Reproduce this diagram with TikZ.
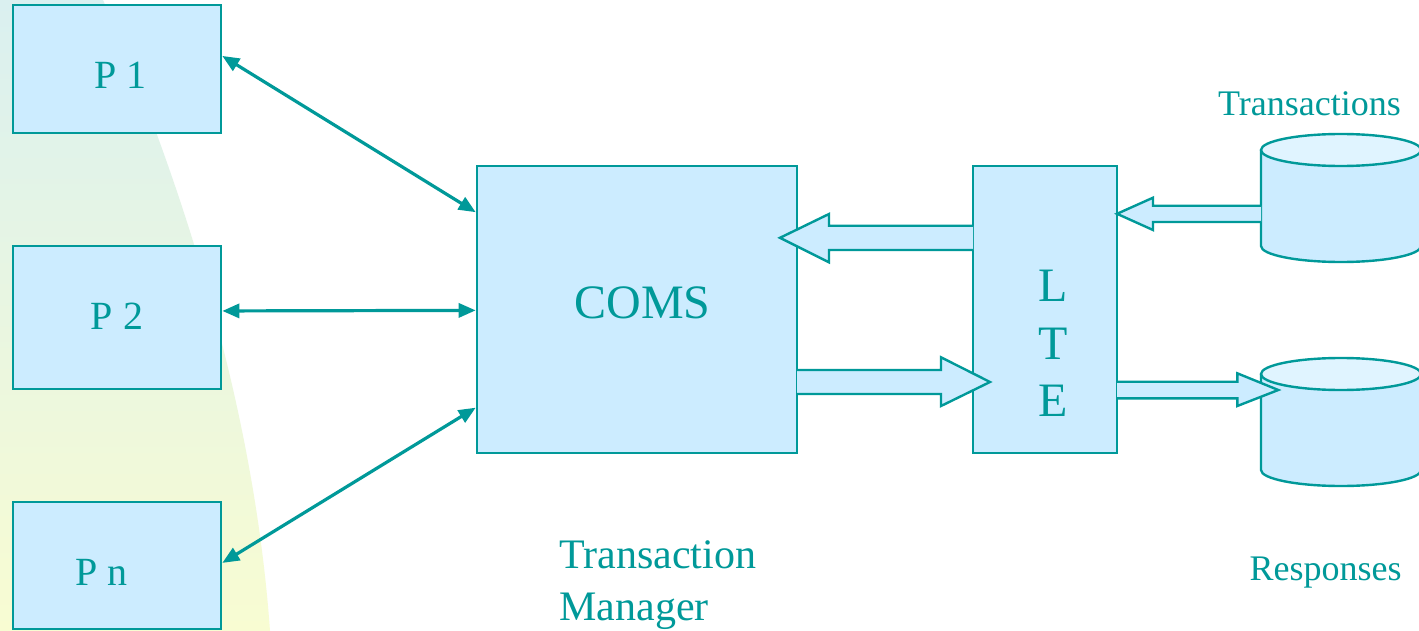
\documentclass[tikz,border=0pt]{standalone}
\usepackage{fontspec}
\setmainfont{Liberation Serif}
\usetikzlibrary{arrows.meta,calc}
\definecolor{tealc}{RGB}{0,153,153}
\definecolor{boxfill}{RGB}{204,236,255}
\definecolor{capfill}{RGB}{224,244,255}
\definecolor{bgtop}{RGB}{218,240,240}
\definecolor{bgbot}{RGB}{248,252,210}
\begin{document}
\begin{tikzpicture}[x=0.5pt,y=-0.5pt,
  box/.style={draw=tealc, fill=boxfill, line width=1.3pt, inner sep=0pt},
  lab/.style={text=tealc, inner sep=0pt},
  link/.style={draw=tealc, line width=1.6pt,
    {Triangle[length=8.5pt,width=7pt]}-{Triangle[length=8.5pt,width=7pt]}},
  blockarrow/.style={draw=tealc, fill=boxfill, line width=1.2pt, line join=miter},
  cylline/.style={draw=tealc, line width=1.2pt}]
\useasboundingbox (0,0) rectangle (1419,631);
\fill[white] (0,0) rectangle (1419,631);
% background swoosh
\shade[top color=bgtop, bottom color=bgbot]
  (0,0) -- (103,0) .. controls (190,200) and (255,420) .. (270,631) -- (0,631) -- cycle;

% boxes
\node[box, minimum width=104pt, minimum height=64pt] (p1) at (117,69) {};
\node[box, minimum width=104pt, minimum height=71.5pt] (p2) at (117,317.5) {};
\node[box, minimum width=104pt, minimum height=63.5pt] (pn) at (117,565.5) {};
\node[box, minimum width=160pt, minimum height=143.5pt] (coms) at (637,309.5) {};
\node[box, minimum width=72pt, minimum height=143.5pt] (lte) at (1045,309.5) {};

% labels
\node[lab, anchor=base, font=\fontsize{20}{24}\selectfont] (p1t) at (120.5,88.3) {P 1};
\node[lab, anchor=base, font=\fontsize{20}{24}\selectfont] (p2t) at (117,329) {P 2};
\node[lab, anchor=base, font=\fontsize{20}{24}\selectfont] (pnt) at (101.5,585) {P n};
\node[lab, anchor=base, font=\fontsize{24}{28}\selectfont] (comst) at (642.5,318) {COMS};
\node[lab, align=center, font=\fontsize{24}{28.7}\selectfont] (ltet) at (1053,343.5) {L\\T\\E};
\node[lab, anchor=base, font=\fontsize{18}{22}\selectfont] (transt) at (1309.5,116) {Transactions};
\node[lab, anchor=base, font=\fontsize{18}{22}\selectfont] (respt) at (1325.5,580) {Responses};
\node[lab, align=left, anchor=west, font=\fontsize{21}{26}\selectfont] (tmt) at (559,585.5) {Transaction\\Manager};

% cylinders
\coordinate (transdb) at (1341,198);
\coordinate (respdb) at (1341,422);
\fill[boxfill] (1261,150) -- (1261,246) arc[start angle=180,end angle=360,x radius=40pt,y radius=8pt] -- (1421,150) -- cycle;
\draw[cylline] (1261,150) -- (1261,246) arc[start angle=180,end angle=360,x radius=40pt,y radius=8pt] -- (1421,150);
\draw[cylline, fill=capfill] (1341,150) ellipse[x radius=40pt, y radius=8pt];
\fill[boxfill] (1261,374) -- (1261,470) arc[start angle=180,end angle=360,x radius=40pt,y radius=8pt] -- (1421,374) -- cycle;
\draw[cylline] (1261,374) -- (1261,470) arc[start angle=180,end angle=360,x radius=40pt,y radius=8pt] -- (1421,374);
\draw[cylline, fill=capfill] (1341,374) ellipse[x radius=40pt, y radius=8pt];

% thin double arrows
\draw[link] ($(p1.north east)!0.4!(p1.south east)$) -- ($(coms.north west)!0.164!(coms.south west)$);
\draw[link] ($(p2.north east)!0.455!(p2.south east)$) -- ($(coms.north west)!0.503!(coms.south west)$);
\draw[link] ($(pn.north east)!0.48!(pn.south east)$) -- ($(coms.north west)!0.839!(coms.south west)$);

% block arrows
\draw[blockarrow] (973,225.7) -- (829,225.7) -- (829,214) -- (780,237.8) -- (829,262.3) -- (829,250) -- (973,250);
\draw[blockarrow] (797,370) -- (941,370) -- (941,357.3) -- (990,382) -- (941,406) -- (941,394) -- (797,394);
\draw[blockarrow] (1261,205.7) -- (1153,205.7) -- (1153,197.7) -- (1117,213.8) -- (1153,230) -- (1153,222) -- (1261,222);
\draw[blockarrow] (1117,381.7) -- (1237.3,381.7) -- (1237.3,373.3) -- (1278.3,390) -- (1237.3,406) -- (1237.3,398.3) -- (1117,398.3);
\end{tikzpicture}
\end{document}
